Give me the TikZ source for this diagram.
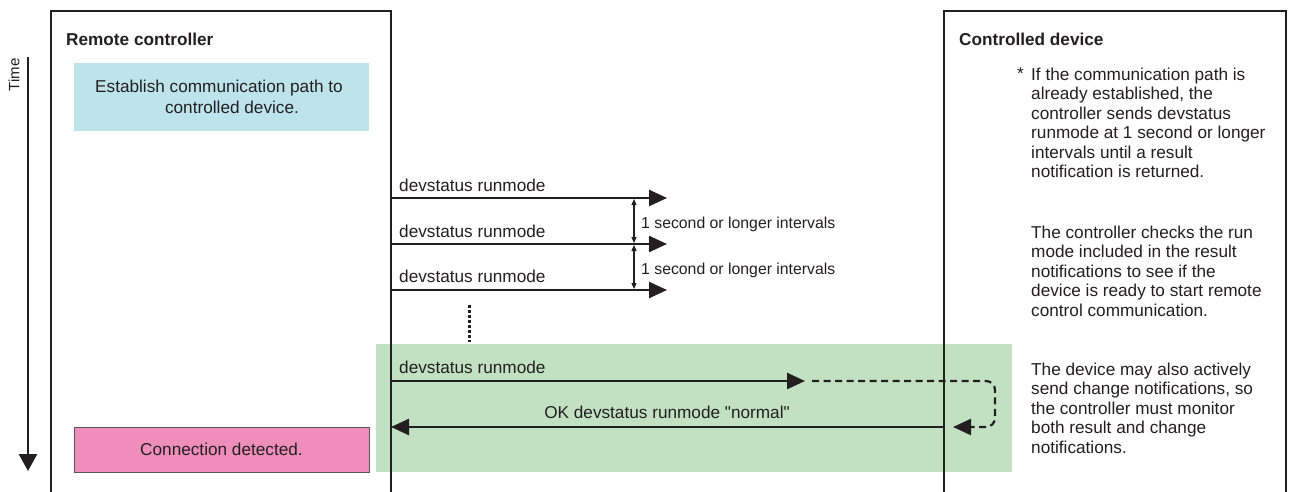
\documentclass[tikz,border=0pt]{standalone}
\usepackage{fontspec}
\newfontfamily\lib{Liberation Sans}
\usetikzlibrary{arrows.meta}
\definecolor{ink}{HTML}{231F20}
\definecolor{cyanbox}{HTML}{BDE4EA}
\definecolor{pinkbox}{HTML}{EF8EBB}
\definecolor{greenbg}{HTML}{C2E1C3}
\tikzset{
  every node/.style={font=\lib\fontsize{17.2}{19.5}\selectfont, text=ink, inner sep=0pt},
  lane/.style={draw=ink, line width=2pt},
  msg/.style={draw=ink, line width=2.5pt, -{Triangle[length=18pt,width=16pt]}},
  gap/.style={draw=ink, line width=1.1pt, {Triangle[length=6pt,width=5pt]}-{Triangle[length=6pt,width=5pt]}},
  lbl/.style={anchor=base west},
  small/.style={font=\lib\fontsize{15.8}{18}\selectfont},
  title/.style={anchor=base west, font=\lib\bfseries\fontsize{17.2}{19.5}\selectfont},
  note/.style={anchor=north west, align=left},
}
\begin{document}
\begin{tikzpicture}[x=1pt,y=-1pt]
\useasboundingbox (0,0) rectangle (1290,492);
% green background
\fill[greenbg] (376,344) rectangle (1012,472);
% lanes
\draw[lane] (51,492) -- (51,11) -- (391,11) -- (391,492);
\draw[lane] (944,492) -- (944,11) -- (1286,11) -- (1286,492);
% titles
\node[title] (rc) at (66,46) {Remote controller};
\node[title] (cd) at (959,46) {Controlled device};
% time axis
\node[rotate=90, font=\lib\fontsize{15}{18}\selectfont] (time) at (14,75) {Time};
\coordinate (t0) at (28,57);
\coordinate (t1) at (28,471);
\draw[ink, line width=2.5pt, -{Triangle[length=17pt,width=18pt]}] (t0) -- (t1);
% boxes
\fill[cyanbox] (74,63) rectangle (369,131);
\node[align=center] (est) at (219,97) {Establish communication path to\\[1.5pt]\hspace*{26pt}controlled device.};
\node[fill=pinkbox, draw=ink!75, line width=0.8pt, minimum width=295pt, minimum height=45pt] (conn) at (221.5,449.5) {Connection detected.};
% anchor coordinates
\coordinate (a1) at (391,198); \coordinate (b1) at (667,198);
\coordinate (a2) at (391,244); \coordinate (b2) at (667,244);
\coordinate (a3) at (391,290); \coordinate (b3) at (667,290);
\coordinate (a4) at (391,381); \coordinate (b4) at (805,381);
\coordinate (r0) at (944,427); \coordinate (r1) at (391,427);
\coordinate (d0) at (812,381); \coordinate (d1) at (953,427);
\coordinate (g1) at (634,199); \coordinate (g2) at (634,243);
\coordinate (g3) at (634,245); \coordinate (g4) at (634,289);
\coordinate (v0) at (469,305); \coordinate (v1) at (469,342);
% messages
\draw[msg] (a1) -- (b1);
\draw[msg] (a2) -- (b2);
\draw[msg] (a3) -- (b3);
\draw[msg] (a4) -- (b4);
\draw[msg] (r0) -- (r1);
\node[lbl] (m1) at (399,191) {devstatus runmode};
\node[lbl] (m2) at (399,237) {devstatus runmode};
\node[lbl] (m3) at (399,282) {devstatus runmode};
\node[lbl] (m4) at (399,373) {devstatus runmode};
\node[anchor=base] (ok) at (667,418) {OK devstatus runmode "normal"};
% intervals
\draw[gap] (g1) -- (g2);
\draw[gap] (g3) -- (g4);
\node[lbl, small] (i1) at (641,228) {1 second or longer intervals};
\node[lbl, small] (i2) at (641,274) {1 second or longer intervals};
% dotted continuation
\draw[ink, line width=3pt, dash pattern=on 2.5pt off 2.5pt] (v0) -- (v1);
% dashed loop
\draw[ink, line width=2.2pt, dash pattern=on 7pt off 4.5pt, rounded corners=9pt, -{Triangle[length=18pt,width=16pt]}]
  (d0) -- (995,381) -- (995,427) -- (d1);
% notes
\node[lbl] (star) at (1017,80) {*};
\node[note] (n1) at (1031,67.5) {If the communication path is\\already established, the\\controller sends devstatus\\runmode at 1 second or longer\\intervals until a result\\notification is returned.};
\node[note] (n2) at (1031,225.5) {The controller checks the run\\mode included in the result\\notifications to see if the\\device is ready to start remote\\control communication.};
\node[note] (n3) at (1031,362.5) {The device may also actively\\send change notifications, so\\the controller must monitor\\both result and change\\notifications.};
\end{tikzpicture}
\end{document}
